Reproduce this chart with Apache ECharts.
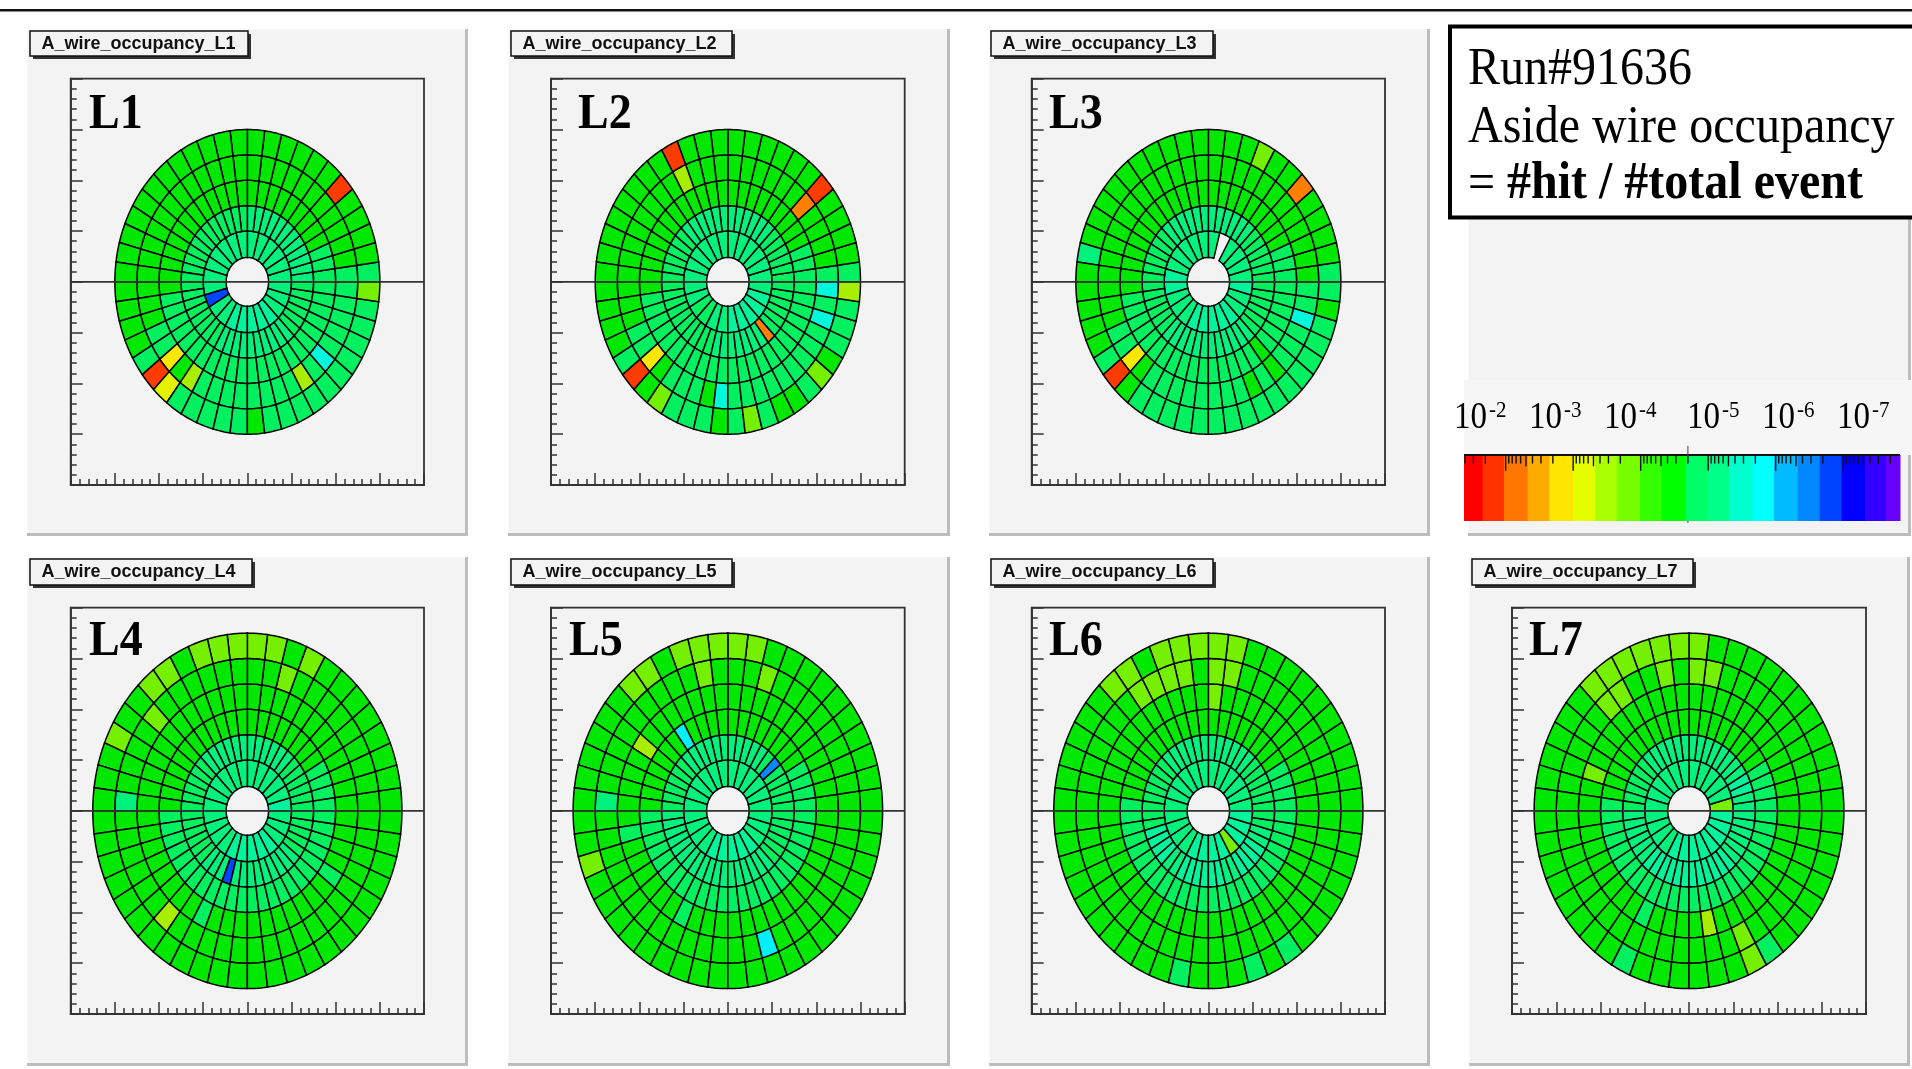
<!DOCTYPE html>
<html>
<head>
<meta charset="utf-8">
<title>A wire occupancy</title>
<script src="https://cdn.jsdelivr.net/npm/echarts@6/dist/echarts.min.js"></script>
<style>
    html, body { margin: 0; padding: 0; background: #fff; }
    #main { width: 1912px; height: 1069px; }
</style>
</head>
<body>
<div id="main"></div>
<script>
// ring edges of every layer (axis units), cells are 7.5 deg wide, 15 deg in the first ring
var ringEdges = [0.48, 1, 1.5, 2, 2.5, 3, 3.5]

// occupancy read per cell, ring by ring from the inside, counter clockwise from +x
// a letter is a colour bin (see binKeys), the number after it how many cells in a row, '.' is a dead cell
var L1 = [
    'l13 q l2 m5 l3',
    'l12 k12 k8 l10 k6',
    'k3 j22 k23',
    'k j26 k2 e j g k8 g k u k5',
    'k j4 b j18 j4 k b f k5 j k10 h'
]
var L2 = [
    'l14 k2 l2 m5 l',
    'k6 l12 k6 k10 l7 c k6',
    'k3 j22 k23',
    'k j4 c j9 g j11 k2 e j k3 j u k9 u k u',
    'k j4 b j9 b j12 k b j h k3 j k h k j j k h j k3 g'
]
var L3 = [
    'l4 . l6 m2 l3 m5 l2 m',
    'k6 l12 k6 k6 l12 k6',
    'k3 j22 k16 j k6',
    'j27 k2 e j k8 j k j k3 u k2',
    'k j4 c j2 h j13 l j j4 k b j k15 j k'
]
var L4 = [
    'm l15 m5 l3',
    'k6 l12 k6 k6 l3 q l9 k5',
    'k4 j20 k24',
    'j32 k j10 k j4',
    'j9 h j8 h j4 l j6 g j17',
    'j8 h j h5 j h2 j2 h j27'
]
var L5 = [
    'l16 m5 l3',
    'k5 p k l11 k6 l18 k6',
    'k4 j12 n j7 k24',
    'j19 g j5 k j6 k j15',
    'j9 h j3 h j9 l j14 n j9',
    'j10 h5 j h2 j8 h j21'
]
var L6 = [
    'l16 m4 h m3',
    'k6 l12 k6 k2 m4 l2 m6 l2 m4 l2 k2',
    'k4 j19 k25',
    'j11 h j36',
    'j10 h2 j h4 j31',
    'j10 h5 j h2 j16 k j3 k j k j7'
]
var L7 = [
    'h l15 m8',
    'l2 m2 l14 k6 l6 m12 l6',
    'k4 j19 k25',
    'j21 h j10 k j4 g j10',
    'j10 h2 j h j2 h2 j21 h j8',
    'j11 h7 j14 k j6 h k j7'
]
var layers = [L1, L2, L3, L4, L5, L6, L7]
var layerNames = ['L1', 'L2', 'L3', 'L4', 'L5', 'L6', 'L7']

// colours the cells use for each bin
var binKeys = 'abcdefghijklmunopqrst'.split('')
var binColors = {
    a: '#ff0000', b: '#ff3c00', c: '#ff8000', d: '#ffaa00', e: '#f8e800', f: '#e4f400', g: '#a8ee00',
    h: '#74f000', i: '#30ec00', j: '#00e800', k: '#00f060', l: '#00f27c', m: '#00f49c', u: '#00f8dc',
    n: '#00f0f8', o: '#00b8ff', p: '#0088ff', q: '#0044ff', r: '#0000ff', s: '#3300ff', t: '#6600ff'
}

// colour bar: band edges in log10(occupancy), band colours, decade labels
var barEdges = [-1.383, -1.659, -1.975, -2.326, -2.647, -3.002, -3.323, -3.644, -3.99, -4.311, -4.667,
    -4.988, -5.314, -5.659, -5.975, -6.326, -6.652, -6.973, -7.323, -7.635, -7.842]
var barColors = ['#ff0000', '#ff3300', '#ff7700', '#ffaa00', '#ffe600', '#e6ff00', '#aaff00', '#77ff00', '#33ff00', '#00ff00',
    '#00ff66', '#00ff88', '#00ffcc', '#00ffff', '#00bbff', '#0088ff', '#0044ff', '#0000ff', '#3300ff', '#6600ff']
var barDecades = [-2, -3, -4, -5, -6, -7]
var barLabels = ['-2', '-3', '-4', '-5', '-6', '-7']
var barMiddle = -4.7

// page layout in pixels
var frames = [
    [70.7, 78.7, 424, 485], [551, 78.7, 904.7, 485], [1031.7, 78.7, 1385, 485],
    [70.7, 607.7, 424, 1014], [551, 607.7, 904.7, 1014], [1031.7, 607.7, 1385, 1014], [1512, 607.7, 1866, 1014]
]
var panels = [
    [28, 30, 465, 533], [509, 30, 947, 533], [990, 30, 1427, 533], [1469, 30, 1908, 533],
    [28, 558, 465, 1063], [509, 558, 947, 1063], [990, 558, 1427, 1063], [1470, 558, 1907, 1063]
]
var titleBoxes = [
    [30, 31, 248, 56], [511, 31, 732, 56], [991, 31, 1213, 56],
    [30, 559, 252, 585], [511, 559, 732, 585], [991, 559, 1213, 585], [1472, 559, 1693, 585]
]
var layerLabelPos = [[89, 115], [578, 115], [1049, 115], [89, 642], [569, 642], [1049, 642], [1529, 642]]
var barRect = [1464, 455, 1900, 521]
var barLabelX = [1454, 1529, 1604, 1687, 1762, 1837]

var serif = '"Liberation Serif", "Times New Roman", serif'
var sans = '"Liberation Sans", Arial, sans-serif'

function decodeRing(text) {
    var out = []
    text.split(' ').forEach(function (token) {
        var n = token.length > 1 ? parseInt(token.slice(1), 10) : 1
        for (var i = 0; i < n; i++) out.push(token.charAt(0))
    })
    return out
}

function cellRows(layer) {
    var rows = []
    layer.forEach(function (ring, r) {
        var cells = decodeRing(ring)
        var step = 360 / cells.length
        cells.forEach(function (key, i) {
            if (key === '.') return
            rows.push([ringEdges[r], ringEdges[r + 1], i * step, (i + 1) * step, binKeys.indexOf(key)])
        })
    })
    return rows
}

function renderCell(params, api) {
    var r0 = api.value(0), r1 = api.value(1), t0 = api.value(2), t1 = api.value(3)
    var pts = []
    var n = 6
    for (var i = 0; i <= n; i++) {
        var a = (t0 + (t1 - t0) * i / n) * Math.PI / 180
        pts.push(api.coord([r1 * Math.cos(a), r1 * Math.sin(a)]))
    }
    for (var j = n; j >= 0; j--) {
        var b = (t0 + (t1 - t0) * j / n) * Math.PI / 180
        pts.push(api.coord([r0 * Math.cos(b), r0 * Math.sin(b)]))
    }
    return {
        type: 'polygon',
        shape: { points: pts },
        style: { fill: binColors[binKeys[api.value(4)]], stroke: '#000', lineWidth: 1.5 }
    }
}

var grids = [], xAxes = [], yAxes = [], series = [], graphics = []

frames.forEach(function (f, i) {
    grids.push({
        left: f[0], top: f[1], width: f[2] - f[0], height: f[3] - f[1],
        show: true, borderColor: '#333', borderWidth: 1.8, backgroundColor: 'transparent'
    })
    xAxes.push({
        type: 'value', gridIndex: i, min: -4, max: 4, interval: 1,
        axisLine: { show: true, onZero: false, lineStyle: { color: '#333', width: 1.8 } },
        axisTick: { show: true, inside: true, length: 12, lineStyle: { color: '#333', width: 1.5 } },
        minorTick: { show: true, splitNumber: 5, length: 6, lineStyle: { color: '#333', width: 1.5 } },
        axisLabel: { show: false }, splitLine: { show: false }
    })
    yAxes.push({
        type: 'value', gridIndex: i, min: -4, max: 4, interval: 1,
        axisLine: { show: true, onZero: false, lineStyle: { color: '#333', width: 1.8 } },
        axisTick: { show: true, inside: true, length: 12, lineStyle: { color: '#333', width: 1.5 } },
        minorTick: { show: true, splitNumber: 5, length: 6, lineStyle: { color: '#333', width: 1.5 } },
        axisLabel: { show: false }, splitLine: { show: false }
    })
    series.push({
        type: 'custom', name: layerNames[i], xAxisIndex: i, yAxisIndex: i,
        renderItem: renderCell, data: cellRows(layers[i]), clip: false, silent: true,
        encode: { x: 0, y: 1 }, z: 3
    })
    series.push({
        type: 'line', xAxisIndex: i, yAxisIndex: i, data: [[-4, 0], [4, 0]],
        symbol: 'none', silent: true, z: 4, lineStyle: { color: '#333', width: 1.8 }
    })
})

// colour bar
var barIndex = frames.length
grids.push({ left: barRect[0], top: barRect[1], width: barRect[2] - barRect[0], height: barRect[3] - barRect[1] })
xAxes.push({ type: 'value', gridIndex: barIndex, inverse: true, min: barEdges[barEdges.length - 1], max: barEdges[0], show: false })
yAxes.push({ type: 'value', gridIndex: barIndex, min: 0, max: 1, show: false })

var barRows = barColors.map(function (c, i) { return [barEdges[i], barEdges[i + 1], i] })
series.push({
    type: 'custom', xAxisIndex: barIndex, yAxisIndex: barIndex, data: barRows, clip: false, silent: true, z: 3,
    encode: { x: 0 },
    renderItem: function (params, api) {
        var a = api.coord([api.value(0), 1])
        var b = api.coord([api.value(1), 0])
        return {
            type: 'rect',
            shape: { x: a[0], y: a[1], width: b[0] - a[0] + 0.5, height: b[1] - a[1] },
            style: { fill: barColors[api.value(2)] }
        }
    }
})

// log ticks hanging from the top of the bar, [exponent, tick length in bar units]
var barTicks = []
barDecades.forEach(function (d) { barTicks.push([d, 0.24]) })
for (var d = -1; d >= -7; d--) {
    for (var k = 2; k <= 9; k++) {
        var e = d - 1 + Math.log10(k)
        if (e < barEdges[0] && e > barEdges[barEdges.length - 1]) barTicks.push([e, k === 5 ? 0.17 : 0.13])
    }
}
series.push({
    type: 'custom', xAxisIndex: barIndex, yAxisIndex: barIndex, data: barTicks, clip: false, silent: true, z: 4,
    encode: { x: 0 },
    renderItem: function (params, api) {
        var a = api.coord([api.value(0), 1])
        var b = api.coord([api.value(0), 1 - api.value(1)])
        return { type: 'line', shape: { x1: a[0], y1: a[1], x2: b[0], y2: b[1] }, style: { stroke: '#111', lineWidth: 1.4 } }
    }
})
series.push({
    type: 'line', xAxisIndex: barIndex, yAxisIndex: barIndex, data: [[barEdges[0], 1], [barEdges[barEdges.length - 1], 1]],
    symbol: 'none', silent: true, clip: false, z: 5, lineStyle: { color: '#111', width: 1.8 }
})
series.push({
    type: 'line', xAxisIndex: barIndex, yAxisIndex: barIndex, data: [[barMiddle, 1.14], [barMiddle, 0.87]],
    symbol: 'none', silent: true, clip: false, z: 5, lineStyle: { color: '#444', width: 1 }
})
series.push({
    type: 'line', xAxisIndex: barIndex, yAxisIndex: barIndex, data: [[barMiddle, 0], [barMiddle, -0.03]],
    symbol: 'none', silent: true, clip: false, z: 5, lineStyle: { color: '#444', width: 1 }
})

// panels, title boxes and the text
graphics.push({ type: 'rect', shape: { x: 0, y: 9, width: 1912, height: 2.5 }, style: { fill: '#111' }, z: -8 })

panels.forEach(function (p) {
    graphics.push({ type: 'rect', shape: { x: p[0] - 1, y: p[1] - 1, width: p[2] - p[0] + 4, height: p[3] - p[1] + 4 }, style: { fill: '#bcbcbc' }, z: -8 })
    graphics.push({ type: 'rect', shape: { x: p[0] - 1, y: p[1] - 1, width: p[2] - p[0] + 1, height: p[3] - p[1] + 1 }, style: { fill: '#f9f9f9' }, z: -7 })
    graphics.push({ type: 'rect', shape: { x: p[0], y: p[1], width: p[2] - p[0], height: p[3] - p[1] }, style: { fill: '#f3f3f3' }, z: -6 })
})
graphics.push({ type: 'rect', shape: { x: 1464, y: 380, width: 448, height: 75 }, style: { fill: '#f7f6f7' }, z: -5 })

titleBoxes.forEach(function (b, i) {
    graphics.push({ type: 'rect', shape: { x: b[0] + 3, y: b[1] + 3, width: b[2] - b[0], height: b[3] - b[1] }, style: { fill: '#333' }, z: 5 })
    graphics.push({ type: 'rect', shape: { x: b[0], y: b[1], width: b[2] - b[0], height: b[3] - b[1] }, style: { fill: '#f3f3f3', stroke: '#111', lineWidth: 1.5 }, z: 6 })
    graphics.push({
        type: 'text', x: b[0] + 11.5, y: (b[1] + b[3]) / 2 + 0.5, z: 7,
        style: { text: 'A_wire_occupancy_' + layerNames[i], font: 'bold 18px ' + sans, fill: '#111', verticalAlign: 'middle' }
    })
    graphics.push({
        type: 'text', x: layerLabelPos[i][0], y: layerLabelPos[i][1], z: 7, scaleY: 1.12,
        style: { text: layerNames[i], font: 'bold 46px ' + serif, fill: '#000', verticalAlign: 'middle' }
    })
})

// run box
graphics.push({ type: 'rect', shape: { x: 1450, y: 26.5, width: 470, height: 191 }, style: { fill: '#fff', stroke: '#000', lineWidth: 4 }, z: 8 })
graphics.push({ type: 'text', x: 1468, y: 70, z: 9, scaleY: 1.08, style: { text: 'Run#91636', font: '48px ' + serif, fill: '#000', verticalAlign: 'middle' } })
graphics.push({ type: 'text', x: 1468, y: 128, z: 9, scaleY: 1.08, style: { text: 'Aside wire occupancy', font: '48px ' + serif, fill: '#000', verticalAlign: 'middle' } })
graphics.push({ type: 'text', x: 1468, y: 185, z: 9, scaleY: 1.08, style: { text: '=', font: '48px ' + serif, fill: '#000', verticalAlign: 'middle' } })
graphics.push({ type: 'text', x: 1507, y: 185, z: 9, scaleY: 1.08, style: { text: '#hit / #total event', font: 'bold 48px ' + serif, fill: '#000', verticalAlign: 'middle' } })

barLabels.forEach(function (t, i) {
    graphics.push({ type: 'text', x: barLabelX[i], y: 418, z: 9, scaleY: 1.15, style: { text: '10', font: '33px ' + serif, fill: '#000', verticalAlign: 'middle' } })
    graphics.push({ type: 'text', x: barLabelX[i] + 35, y: 411, z: 9, scaleY: 1.1, style: { text: t, font: '21px ' + serif, fill: '#000', verticalAlign: 'middle' } })
})

var myChart = echarts.init(document.getElementById('main'), null, { renderer: 'canvas' })
myChart.setOption({
    animation: false,
    backgroundColor: '#fff',
    grid: grids,
    xAxis: xAxes,
    yAxis: yAxes,
    series: series,
    graphic: graphics
})
window.addEventListener('resize', function () {
    myChart.resize()
})
</script>
</body>
</html>
